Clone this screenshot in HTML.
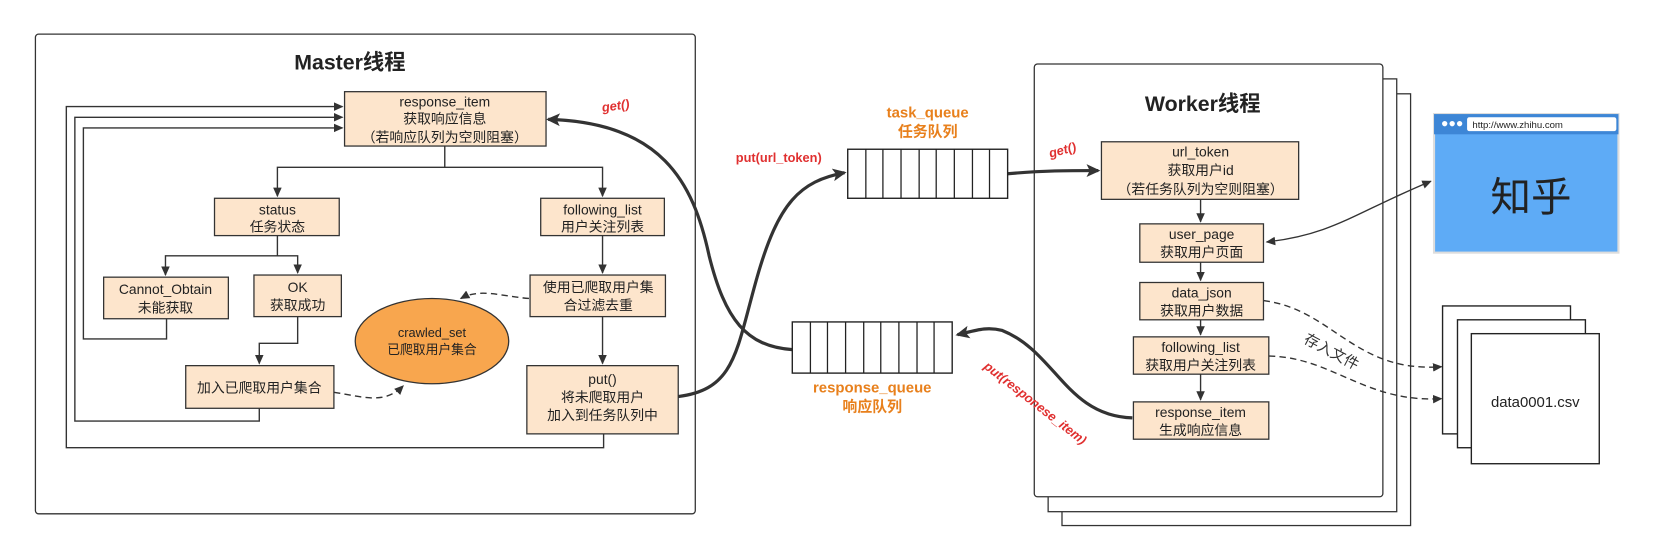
<!DOCTYPE html>
<html><head><meta charset="utf-8"><style>
html,body{margin:0;padding:0;background:#fff;}
svg{display:block;}
text{font-family:"Liberation Sans","Noto Sans CJK SC",sans-serif;}
</style></head><body>
<svg width="1672" height="549" viewBox="0 0 1568 515" xmlns="http://www.w3.org/2000/svg">
<defs>
<marker id="a" markerWidth="10" markerHeight="10" refX="8" refY="5" orient="auto-start-reverse" markerUnits="userSpaceOnUse"><path d="M0,1 L9,5 L0,9 z" fill="#333"/></marker>
<marker id="b" markerWidth="14" markerHeight="14" refX="11" refY="7" orient="auto" markerUnits="userSpaceOnUse"><path d="M0,1 L13,7 L0,13 L3,7 z" fill="#333"/></marker>
</defs>
<g fill="#fff" stroke="#333" stroke-width="1.2">
<rect x="33" y="32" width="619" height="450" rx="3"/>
<rect x="996" y="88" width="327" height="405"/>
<rect x="983" y="74" width="327" height="406"/>
<rect x="970" y="60" width="327" height="406" rx="3"/>
</g>
<text x="328" y="65" font-size="20" font-weight="bold" text-anchor="middle" fill="#222">Master线程</text>
<text x="1128" y="104" font-size="20" font-weight="bold" text-anchor="middle" fill="#222">Worker线程</text>

<g fill="none" stroke="#333" stroke-width="1.3">
<path d="M566,407 V420 H62 V100 H321" marker-end="url(#a)"/>
<path d="M243,383 V395 H70 V110 H321" marker-end="url(#a)"/>
<path d="M156,299 V318 H78 V120 H321" marker-end="url(#a)"/>
<path d="M417,137 V157 H260 V184" marker-end="url(#a)"/>
<path d="M417,157 H565 V184" marker-end="url(#a)"/>
<path d="M260,221 V240 H155 V258" marker-end="url(#a)"/>
<path d="M260,240 H279 V256" marker-end="url(#a)"/>
<path d="M279,297 V322 H243 V341" marker-end="url(#a)"/>
<path d="M565,221 V256" marker-end="url(#a)"/>
<path d="M565,297 V341" marker-end="url(#a)"/>
<path d="M1126,187 V208" marker-end="url(#a)"/>
<path d="M1126,246 V263" marker-end="url(#a)"/>
<path d="M1126,300 V314" marker-end="url(#a)"/>
<path d="M1126,351 V375" marker-end="url(#a)"/>
</g>
<g fill="none" stroke="#333" stroke-width="1.3" stroke-dasharray="6,4">
<path d="M496,280 C470,278 450,270 432,280" marker-end="url(#a)"/>
<path d="M313,368 C340,372 360,380 378,362" marker-end="url(#a)"/>
<path d="M1185,282 C1250,290 1270,350 1352,344" marker-end="url(#a)"/>
<path d="M1190,334 C1250,335 1280,378 1352,374" marker-end="url(#a)"/>
</g>
<path d="M1188,227 C1250,220 1270,200 1342,170" fill="none" stroke="#333" stroke-width="1.3" marker-start="url(#a)" marker-end="url(#a)"/>
<g fill="none" stroke="#333" stroke-width="3">
<path d="M636,372 C690,365 690,330 710,260 C730,190 750,170 792,162" marker-end="url(#b)"/>
<path d="M743,328 C700,325 680,300 665,240 C650,170 620,115 514,112" marker-end="url(#b)"/>
<path d="M945,163 C980,160 1000,160 1030,160" marker-end="url(#b)"/>
<path d="M1062,392 C1000,390 990,330 940,310 C925,306 915,310 898,314" marker-end="url(#b)"/>
</g>

<g fill="#fde5cc" stroke="#333" stroke-width="1.2">
<rect x="323" y="86" width="189" height="51"/>
<rect x="201" y="186" width="117" height="35"/>
<rect x="507" y="186" width="116" height="35"/>
<rect x="97" y="260" width="117" height="39"/>
<rect x="238" y="258" width="82" height="39"/>
<rect x="497" y="258" width="127" height="39"/>
<rect x="174" y="343" width="139" height="40"/>
<rect x="494" y="343" width="142" height="64"/>
<rect x="1033" y="133" width="185" height="54"/>
<rect x="1069" y="210" width="116" height="36"/>
<rect x="1069" y="265" width="116" height="35"/>
<rect x="1063" y="316" width="127" height="35"/>
<rect x="1063" y="377" width="127" height="35"/>
</g>
<ellipse cx="405" cy="320" rx="72" ry="40" fill="#f8a64e" stroke="#333" stroke-width="1.2"/>

<g font-size="13" fill="#222" text-anchor="middle">
<text x="417" y="100">response_item</text><text x="417" y="116">获取响应信息</text><text x="417" y="133">（若响应队列为空则阻塞）</text>
<text x="260" y="201">status</text><text x="260" y="217">任务状态</text>
<text x="565" y="201">following_list</text><text x="565" y="217">用户关注列表</text>
<text x="155" y="276">Cannot_Obtain</text><text x="155" y="293">未能获取</text>
<text x="279" y="274">OK</text><text x="279" y="291">获取成功</text>
<text x="561" y="274">使用已爬取用户集</text><text x="561" y="291">合过滤去重</text>
<text x="405" y="316" font-size="12">crawled_set</text><text x="405" y="332" font-size="12">已爬取用户集合</text>
<text x="243" y="368">加入已爬取用户集合</text>
<text x="565" y="360">put()</text><text x="565" y="377">将未爬取用户</text><text x="565" y="394">加入到任务队列中</text>
<text x="1126" y="147">url_token</text><text x="1126" y="164">获取用户id</text><text x="1126" y="182">（若任务队列为空则阻塞）</text>
<text x="1127" y="224">user_page</text><text x="1127" y="241">获取用户页面</text>
<text x="1127" y="279">data_json</text><text x="1127" y="296">获取用户数据</text>
<text x="1126" y="330">following_list</text><text x="1126" y="347">获取用户关注列表</text>
<text x="1126" y="391">response_item</text><text x="1126" y="408">生成响应信息</text>
</g>

<g fill="#fff" stroke="#222" stroke-width="1.3">
<rect x="795" y="140" width="150" height="46"/>
<rect x="743" y="302" width="150" height="48"/>
</g>
<g stroke="#222" stroke-width="1.2">
<path d="M812,140v46M828,140v46M845,140v46M862,140v46M878,140v46M895,140v46M912,140v46M928,140v46"/>
<path d="M760,302v48M776,302v48M793,302v48M810,302v48M826,302v48M843,302v48M860,302v48M876,302v48"/>
</g>
<g font-size="14" font-weight="bold" fill="#e8801c" text-anchor="middle">
<text x="870" y="110">task_queue</text><text x="870" y="128">任务队列</text>
<text x="818" y="368">response_queue</text><text x="818" y="386">响应队列</text>
</g>
<g font-size="12" font-weight="bold" fill="#e03030">
<text x="565" y="105" font-style="italic" transform="rotate(-8 565 105)">get()</text>
<text x="690" y="152">put(url_token)</text>
<text x="985" y="148" font-style="italic" transform="rotate(-15 985 148)">get()</text>
<text x="922" y="345" font-style="italic" transform="rotate(38 922 345)">put(responese_item)</text>
</g>

<rect x="1345" y="107" width="173" height="130" fill="#5eabf6" stroke="#ddd" stroke-width="2"/>
<rect x="1345" y="107" width="173" height="19" fill="#3d86d6"/>
<circle cx="1355" cy="116" r="2.5" fill="#fff"/><circle cx="1362" cy="116" r="2.5" fill="#fff"/><circle cx="1369" cy="116" r="2.5" fill="#fff"/>
<rect x="1376" y="110" width="140" height="13" fill="#fff" rx="2"/>
<text x="1381" y="120" font-size="9" fill="#222">http://www.zhihu.com</text>
<text x="1436" y="198" font-size="38" fill="#222" text-anchor="middle">知乎</text>

<g fill="#fff" stroke="#222" stroke-width="1.3">
<rect x="1353" y="287" width="120" height="120"/>
<rect x="1367" y="300" width="120" height="120"/>
<rect x="1380" y="313" width="120" height="122"/>
</g>
<text x="1440" y="382" font-size="14" fill="#222" text-anchor="middle">data0001.csv</text>
<text x="1222" y="321" font-size="14" fill="#333" transform="rotate(28 1222 321)">存入文件</text>
</svg>
</body></html>
